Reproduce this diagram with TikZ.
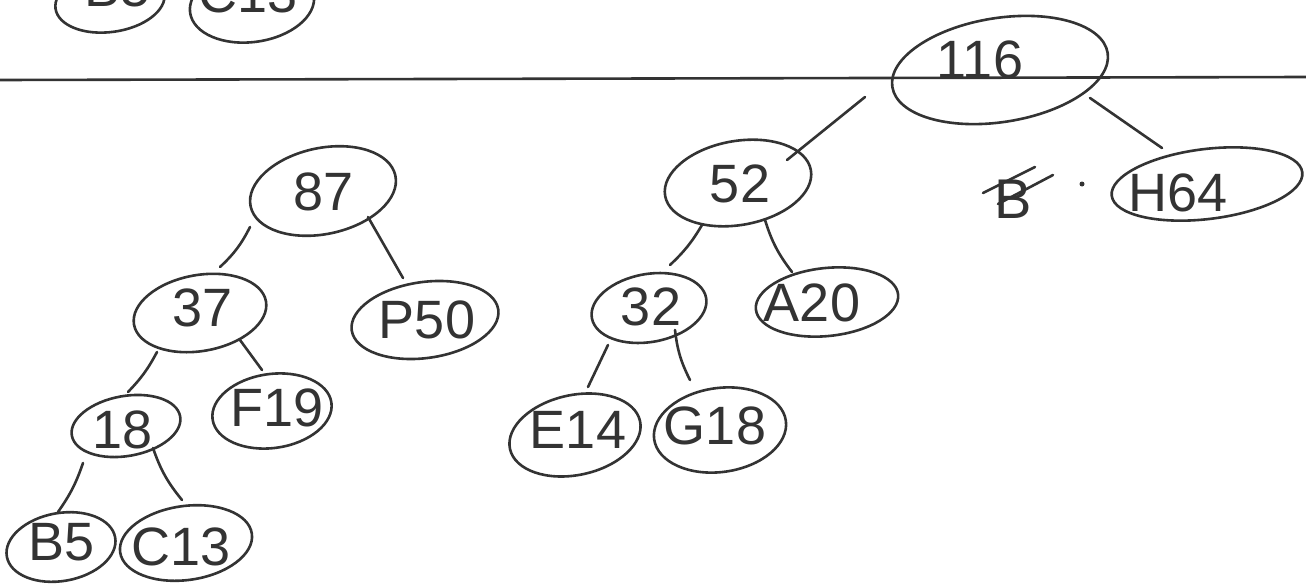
\documentclass[tikz,border=0pt]{standalone}
\usepackage{fontspec}
\setmainfont{Liberation Sans}
\usetikzlibrary{shapes.geometric}
\definecolor{ink}{HTML}{333333}
\tikzset{
  oval/.style={ellipse, draw=ink, line width=2.6pt, inner sep=0pt},
  lbl/.style={text=ink, inner sep=0pt, font=\fontsize{54}{60}\selectfont},
  edge/.style={draw=ink, line width=2.6pt, line cap=round},
}
\begin{document}
\begin{tikzpicture}[x=1pt, y=-1pt]
\clip (0,0) rectangle (1306,586);
\fill[white] (0,0) rectangle (1306,586);

% partially visible nodes at the top
\node[oval, minimum width=110pt, minimum height=62pt, rotate=8] (eB5t) at (110,1) {};
\node[lbl] (tB5t) at (118,-12) {B5};
\node[oval, minimum width=125pt, minimum height=76pt, rotate=8] (eC13t) at (252,4) {};
\node[lbl] (tC13t) at (248,-6) {C13};

% divider
\draw[edge] (0,80) -- (1306,77);

% right tree
\node[oval, minimum width=218pt, minimum height=104pt, rotate=9] (e116) at (1000,70) {};
\node[lbl] (t116) at (980,60) {116};
\node[oval, minimum width=148pt, minimum height=84pt, rotate=10] (e52) at (738,183) {};
\node[lbl] (t52) at (740,184) {52};
\node[oval, minimum width=192pt, minimum height=70pt, rotate=7] (eH64) at (1207,184) {};
\node[lbl] (tH64) at (1178,193) {H64};
\node[oval, minimum width=116pt, minimum height=68pt, rotate=10] (e32) at (649,308) {};
\node[lbl] (t32) at (651,307) {32};
\node[oval, minimum width=143pt, minimum height=68pt, rotate=6] (eA20) at (827,302) {};
\node[lbl] (tA20) at (812,303) {A20};
\node[oval, minimum width=133pt, minimum height=80pt, rotate=12] (eE14) at (575,435) {};
\node[lbl] (tE14) at (578,430) {E14};
\node[oval, minimum width=133pt, minimum height=84pt, rotate=8] (eG18) at (720,430) {};
\node[lbl] (tG18) at (715,426) {G18};

% struck-out letter and dot
\node[lbl, font=\fontsize{56}{60}\selectfont] (sB) at (1013,199) {B};
\draw[edge] (983,193) -- (1035,167);
\draw[edge] (998,204) -- (1053,175);
\fill[ink] (1082,184) circle (2.5pt);

% left tree
\node[oval, minimum width=148pt, minimum height=86pt, rotate=12] (e87) at (323,191) {};
\node[lbl] (t87) at (324,192) {87};
\node[oval, minimum width=134pt, minimum height=76pt, rotate=10] (e37) at (200,313) {};
\node[lbl] (t37) at (203,308) {37};
\node[oval, minimum width=148pt, minimum height=76pt, rotate=8] (eP50) at (425,320) {};
\node[lbl] (tP50) at (427,320) {P50};
\node[oval, minimum width=110pt, minimum height=60pt, rotate=10] (e18) at (126,426) {};
\node[lbl] (t18) at (123,430) {18};
\node[oval, minimum width=120pt, minimum height=74pt, rotate=8] (eF19) at (272,411) {};
\node[lbl] (tF19) at (277,408) {F19};
\node[oval, minimum width=110pt, minimum height=68pt, rotate=10] (eB5) at (61,547) {};
\node[lbl] (tB5) at (62,542) {B5};
\node[oval, minimum width=133pt, minimum height=74pt, rotate=8] (eC13) at (186,543) {};
\node[lbl] (tC13) at (181,547) {C13};

% connectors
\draw[edge] ([shift={(-135,27)}]e116.center) -- ([shift={(49,-23)}]e52.center);
\draw[edge] ([shift={(90,28)}]e116.center) -- ([shift={(-45,-36)}]eH64.center);
\draw[edge] ([shift={(-73,36)}]e87.center) to[bend left=10] ([shift={(20,-46)}]e37.center);
\draw[edge] ([shift={(45,26)}]e87.center) -- ([shift={(-22,-42)}]eP50.center);
\draw[edge] ([shift={(-43,39)}]e37.center) to[bend left=8] ([shift={(2,-34)}]e18.center);
\draw[edge] ([shift={(40,27)}]e37.center) -- ([shift={(-10,-41)}]eF19.center);
\draw[edge] ([shift={(-43,37)}]e18.center) to[bend left=8] ([shift={(-3,-35)}]eB5.center);
\draw[edge] ([shift={(27,22)}]e18.center) to[bend right=10] ([shift={(-4,-43)}]eC13.center);
\draw[edge] ([shift={(-36,42)}]e52.center) to[bend left=8] ([shift={(21,-43)}]e32.center);
\draw[edge] ([shift={(27,37)}]e52.center) to[bend right=10] ([shift={(-35,-30)}]eA20.center);
\draw[edge] ([shift={(-41,37)}]e32.center) -- ([shift={(13,-48)}]eE14.center);
\draw[edge] ([shift={(26,22)}]e32.center) to[bend right=10] ([shift={(-30,-50)}]eG18.center);
\end{tikzpicture}
\end{document}
